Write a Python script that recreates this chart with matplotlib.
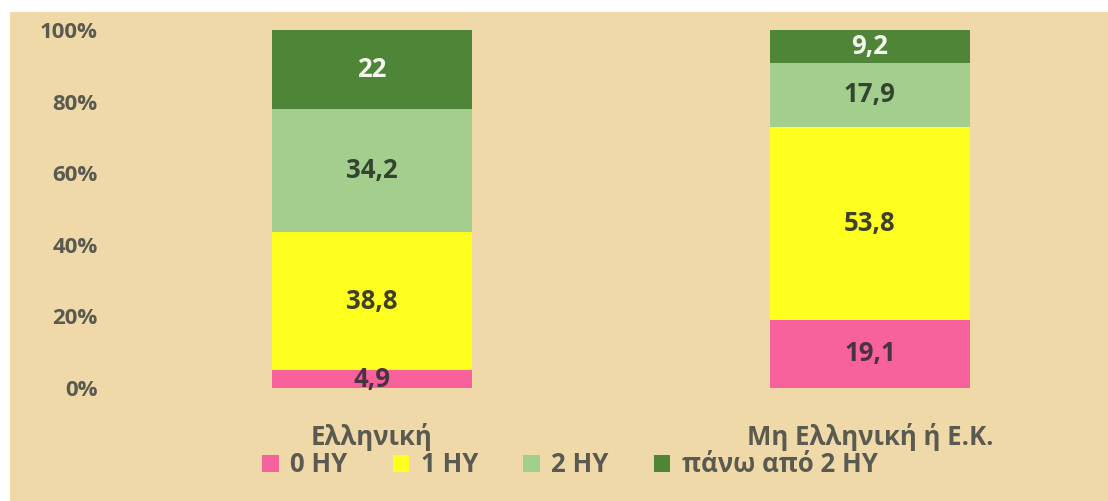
"""Stacked percentage bars: number of computers (HY) per household, by nationality."""

from matplotlib import pyplot
from matplotlib.patches import Rectangle
from matplotlib.ticker import PercentFormatter


categories = ['Ελληνική', 'Μη Ελληνική ή Ε.Κ.']
series_names = ['0 HY', '1 HY', '2 HY', 'πάνω από 2 HY']
values_0 = [4.9, 19.1]
values_1 = [38.8, 53.8]
values_2 = [34.2, 17.9]
values_3 = [22.0, 9.2]
value_labels_0 = ['4,9', '19,1']
value_labels_1 = ['38,8', '53,8']
value_labels_2 = ['34,2', '17,9']
value_labels_3 = ['22', '9,2']

colors = ['#F7629C', '#FFFF1F', '#A3CE8D', '#4F8537']
label_colors = ['#4A3340', '#3F3F2A', '#34452F', '#F4F8EE']
text_color = '#5A5A50'

pyplot.rc('font', family=['Open Sans', 'DejaVu Sans'], weight='bold')
fig = pyplot.figure(figsize=(11.08, 5.01), dpi=100)
fig.patch.set_facecolor('white')

# Parchment-like background panel.
fig.patches.append(Rectangle((10 / 1108, 0), 1.0, 1 - 12 / 501,
                             transform=fig.transFigure, facecolor='#EFD9A9',
                             edgecolor='none', zorder=-5))

ax = fig.add_axes([110 / 1108, 113 / 501, 990 / 1108, 358 / 501])
ax.set_facecolor('none')

x = range(len(categories))
series = [values_0, values_1, values_2, values_3]
labels = [value_labels_0, value_labels_1, value_labels_2, value_labels_3]
bottom = [0.0] * len(categories)
for vals, labs, name, color, lcolor in zip(series, labels, series_names,
                                           colors, label_colors):
    bars = ax.bar(x, vals, width=0.4, bottom=bottom, color=color, label=name)
    for xi, b, v, lab in zip(x, bottom, vals, labs):
        ax.text(xi, b + v / 2, lab, ha='center', va='center',
                fontsize=18.5, color=lcolor, fontweight='bold')
    bottom = [b + v for b, v in zip(bottom, vals)]

ax.set_xlim(-0.526, 1.462)
ax.set_ylim(0, 100)
ax.set_yticks([0, 20, 40, 60, 80, 100])
ax.yaxis.set_major_formatter(PercentFormatter(decimals=0))
ax.set_xticks(list(x))
ax.set_xticklabels(categories)
ax.tick_params(axis='y', length=0, labelsize=16, labelcolor=text_color, pad=9)
ax.tick_params(axis='x', length=0, labelsize=18.5, labelcolor=text_color, pad=25)
for spine in ax.spines.values():
    spine.set_visible(False)

leg = fig.legend(loc='center', bbox_to_anchor=(570 / 1108, 1 - 465 / 501),
                 ncol=4, frameon=False, fontsize=18.5, handlelength=0.65,
                 handleheight=0.65, handletextpad=0.45, columnspacing=1.75,
                 borderpad=0.2)
for text in leg.get_texts():
    text.set_color(text_color)

fig.savefig('out.png', dpi=100)
